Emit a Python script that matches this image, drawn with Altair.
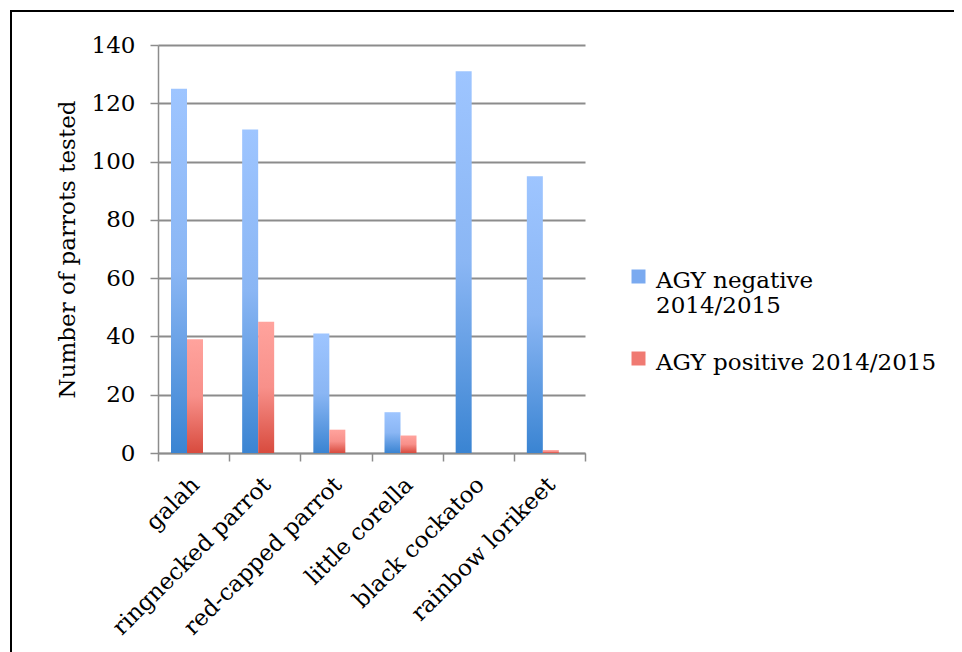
import altair as alt
import pandas as pd

categories = ["galah", "ringnecked parrot", "red-capped parrot", "little corella",
              "black cockatoo", "rainbow lorikeet"]
series_names = ["AGY negative 2014/2015", "AGY positive 2014/2015"]
negative = [125, 111, 41, 14, 131, 95]
positive = [39, 45, 8, 6, 0, 1]
y_ticks = [0, 20, 40, 60, 80, 100, 120, 140]

rows = []
for c, n, p in zip(categories, negative, positive):
    rows.append({"category": c, "series": series_names[0], "value": n})
    rows.append({"category": c, "series": series_names[1], "value": p})
df = pd.DataFrame(rows)

FONT = "DejaVu Serif"
GRID = "#8c8c8c"

blue_grad = alt.Gradient(gradient="linear", x1=0, y1=0, x2=0, y2=1,
                         stops=[alt.GradientStop(color="#9ec5ff", offset=0),
                                alt.GradientStop(color="#8ab6f4", offset=0.5),
                                alt.GradientStop(color="#3a84d2", offset=1)])
red_grad = alt.Gradient(gradient="linear", x1=0, y1=0, x2=0, y2=1,
                        stops=[alt.GradientStop(color="#ffa39d", offset=0),
                               alt.GradientStop(color="#f8908a", offset=0.5),
                               alt.GradientStop(color="#d84b3e", offset=1)])

base = alt.Chart(df).encode(
    x=alt.X("category:N", sort=categories, title=None,
            scale=alt.Scale(paddingInner=0, paddingOuter=0),
            axis=alt.Axis(labelAngle=-45, labelFont=FONT, labelFontSize=23,
                          labelColor="black", tickBand="extent", tickSize=8,
                          tickColor=GRID, tickWidth=1.5, domainColor=GRID,
                          domainWidth=1.5, labelPadding=12, labelOffset=-6,
                          labelLimit=400)),
    xOffset=alt.XOffset("series:N", sort=series_names,
                        scale=alt.Scale(range=[13, 45], paddingInner=0, paddingOuter=0)),
    y=alt.Y("value:Q", title="Number of parrots tested",
            scale=alt.Scale(domain=[0, 140], nice=False),
            axis=alt.Axis(values=y_ticks, labelFont=FONT, labelFontSize=23,
                          labelColor="black", titleFont=FONT, titleFontSize=23,
                          titleFontWeight="normal", titleColor="black",
                          tickSize=8, tickColor=GRID, tickWidth=1.5,
                          domainColor=GRID, domainWidth=1.5, gridColor=GRID,
                          gridWidth=2, labelPadding=15, titlePadding=12)),
)

neg_layer = base.transform_filter(alt.datum.series == series_names[0]).mark_bar(fill=blue_grad)
pos_layer = base.transform_filter(alt.datum.series == series_names[1]).mark_bar(fill=red_grad)

legend_layer = base.mark_bar(opacity=0).encode(
    color=alt.Color("series:N", sort=series_names,
                    scale=alt.Scale(domain=series_names, range=["#7aaaf0", "#f07a72"]),
                    legend=alt.Legend(title=None, orient="none", legendX=469, legendY=213,
                                      symbolType="M-1,0H1V2H-1Z", symbolSize=196,
                                      symbolOpacity=1, symbolStrokeWidth=0,
                                      labelFont=FONT, labelFontSize=23,
                                      labelColor="black", labelOffset=6,
                                      labelLimit=400, rowPadding=22,
                                      labelBaseline="top",
                                      labelExpr="datum.label == 'AGY negative 2014/2015' ? [' AGY negative', '2014/2015'] : datum.label"))
)

frame = alt.Chart(pd.DataFrame({"k": [0]})).mark_rect(
    fillOpacity=0, stroke="black", strokeWidth=2
).encode(x=alt.value(-147), x2=alt.value(900), y=alt.value(-34), y2=alt.value(700))

chart = alt.layer(neg_layer, pos_layer, legend_layer, frame).properties(
    width=427, height=408,
    autosize=alt.AutoSizeParams(type="none"),
    padding={"left": 150, "top": 37, "right": 369, "bottom": 199},
).configure_view(stroke=None)

chart.save("out.html", embed_options={"renderer": "svg", "actions": False})
